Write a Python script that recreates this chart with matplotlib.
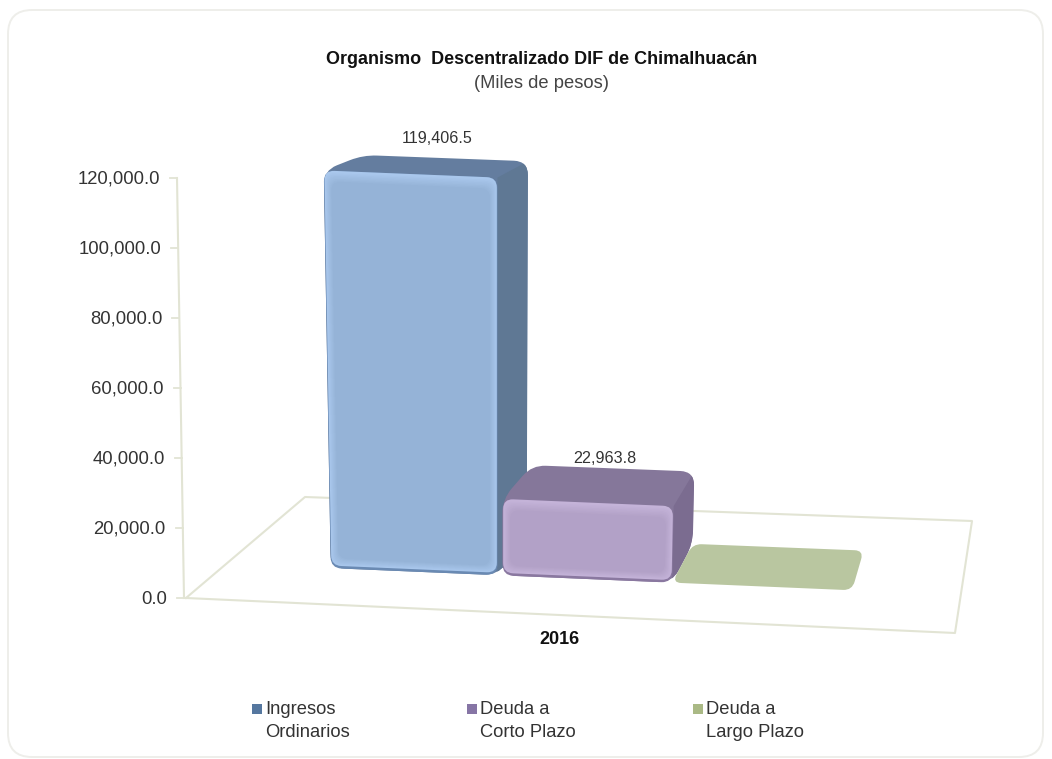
import matplotlib
matplotlib.use("Agg")
import matplotlib.pyplot as plt
import numpy as np
from matplotlib.path import Path
from matplotlib.patches import PathPatch, FancyBboxPatch, Patch, Rectangle
from matplotlib.legend import Legend
from matplotlib.legend_handler import HandlerPatch

plt.rcParams['font.family'] = ['Liberation Sans', 'DejaVu Sans']

# ---- data
title = "Organismo  Descentralizado DIF de Chimalhuacán"
subtitle = "(Miles de pesos)"
year = "2016"
series_names = ["Ingresos\nOrdinarios", "Deuda a\nCorto Plazo", "Deuda a\nLargo Plazo"]
series_values = [119406.5, 22963.8, 0.0]
value_labels = ["119,406.5", "22,963.8", ""]
y_ticks = [0, 20000, 40000, 60000, 80000, 100000, 120000]

# ---- styles
face_cols = ["#95b3d7", "#b2a1c7", "#b9c6a0"]
rim_cols = ["#a9c7ec", "#c4b3d8", "#c3cfab"]
edge_cols = ["#6a8ab3", "#8a78a0", "#b9c6a0"]
top_cols = ["#647d9f", "#85779a", "#b9c6a0"]
side_cols = ["#5f7894", "#7b6c90", "#b9c6a0"]
legend_cols = ["#55779f", "#8675a5", "#aab985"]
bar_u0 = [0.142, 0.376, 0.607]
bar_u1 = [0.369, 0.607, 0.852]
legend_x = [245, 460, 686]
d_front, d_back = 0.34, 0.70
line_col = "#e2e4d4"
text_col = "#333333"

W, H = 1052, 759
fig = plt.figure(figsize=(W / 100, H / 100), dpi=100, facecolor="white")
ax = fig.add_axes([0, 0, 1, 1])
ax.set_xlim(0, W)
ax.set_ylim(H, 0)
ax.axis("off")

# panel
ax.add_patch(FancyBboxPatch((8, 10), 1035, 747, boxstyle="round,pad=0,rounding_size=24",
                            fc="white", ec="#eeeeea", lw=1.4, zorder=0))

# floor corners of the 3-D scene, used by the projection below
F0, F1 = np.array([186., 598.]), np.array([955., 633.])
B0, B1 = np.array([305., 497.]), np.array([972., 521.])
VMAX = series_values[0]


def project(u, d, v=0.0):
    """Map (category position u, depth d, value v) to the picture."""
    p = (1 - d) * (F0 + (F1 - F0) * u) + d * (B0 + (B1 - B0) * u)
    x = p[0] + (p[0] - 497) * 0.042 * v / VMAX
    y = p[1] - (3.5 - 0.5 * d) / 1000 * v
    return np.array([x, y])


def axis_point(v):
    """The value axis leans slightly with the perspective."""
    return np.array([184 - 7 * v / y_ticks[-1], 598 - 420 * v / y_ticks[-1]])


def rounded(poly, r):
    """Path through polygon vertices with rounded corners."""
    poly = np.asarray(poly, float)
    n = len(poly)
    verts, codes = [], []
    for i in range(n):
        a, b, c = poly[i - 1], poly[i], poly[(i + 1) % n]
        r1 = min(r, np.linalg.norm(a - b) / 2)
        r2 = min(r, np.linalg.norm(c - b) / 2)
        p1 = b + (a - b) / np.linalg.norm(a - b) * r1
        p2 = b + (c - b) / np.linalg.norm(c - b) * r2
        verts += [p1, b, p2]
        codes += [Path.MOVETO if i == 0 else Path.LINETO, Path.CURVE3, Path.CURVE3]
    verts.append(verts[0])
    codes.append(Path.CLOSEPOLY)
    return Path(verts, codes)


def inset(poly, dx, top=None, bottom=None):
    poly = np.asarray(poly, float)
    c = poly.mean(axis=0)
    out = poly.copy()
    top = dx if top is None else top
    bottom = dx if bottom is None else bottom
    for i, p in enumerate(poly):
        out[i, 0] += dx * np.sign(c[0] - p[0])
        out[i, 1] += top if p[1] < c[1] else -bottom
    return out


def mix(a, b, t):
    ca, cb = np.array(matplotlib.colors.to_rgb(a)), np.array(matplotlib.colors.to_rgb(b))
    return tuple(ca + (cb - ca) * t)


def fill(poly, r, color, z):
    patch = PathPatch(rounded(poly, r), fc=color, ec="none", lw=0, zorder=z)
    ax.add_patch(patch)
    return patch


# floor outline
ax.plot(*np.array([F0, B0, B1, F1, F0]).T, color=line_col, lw=1.5, zorder=1, solid_joinstyle="round")

# value axis
a0, a1 = axis_point(y_ticks[0]), axis_point(y_ticks[-1])
ax.plot([a0[0], a1[0]], [a0[1], a1[1]], color=line_col, lw=1.5, zorder=2)
for t in y_ticks:
    p = axis_point(t)
    ax.plot([p[0] - 7, p[0]], [p[1], p[1]], color=line_col, lw=1.3, zorder=2)
    ax.text(p[0] - 17, p[1] + 1.5, f"{t:,.1f}", ha="right", va="center", fontsize=13.3, color=text_col, zorder=20)

# bars
for i, v in enumerate(series_values):
    z = 3 + i
    u0, u1 = bar_u0[i], bar_u1[i]
    if v <= 0:
        quad = [project(u0, d_front), project(u1, d_front), project(u1, d_back), project(u0, d_back)]
        fill(quad, 9, face_cols[i], z)
        continue
    fbl, fbr = project(u0, d_front), project(u1, d_front)
    ftl, ftr = project(u0, d_front, v), project(u1, d_front, v)
    bbr = project(u1, d_back)
    btl, btr = project(u0, d_back, v), project(u1, d_back, v)
    # top and side share one rounded silhouette
    outline = fill([ftl, btl, btr, bbr, fbr, fbl], 14, top_cols[i], z)
    side = PathPatch(Path([ftr, btr, bbr, fbr, ftr]), fc=side_cols[i], ec="none", lw=0, zorder=z + 0.01)
    ax.add_patch(side)
    side.set_clip_path(outline)
    front = [ftl, ftr, fbr, fbl]
    fill(front, 11, edge_cols[i], z + 0.02)
    fill(inset(front, 0.6, 0, 2.5), 10, rim_cols[i], z + 0.03)
    steps = 7
    for k in range(steps):
        t = (k + 1) / steps
        fill(inset(front, 0.6 + 7 * t, 1 + 10 * t, 2.5 + 7 * t), 9, mix(rim_cols[i], face_cols[i], t),
             z + 0.04 + k * 0.001)
    if value_labels[i]:
        top_c = project((u0 + u1) / 2, d_back, v)
        ax.text(top_c[0] - 8, top_c[1] - 12.5 * v / VMAX, value_labels[i], ha="center", va="bottom",
                fontsize=11.6, color=text_col, zorder=20)

# texts
ax.text(542, 59.5, title, ha="center", va="center", fontsize=13, fontweight="bold", color="#111111")
ax.text(542, 83, subtitle, ha="center", va="center", fontsize=13.2, color="#444444")
ax.text(559, 640, year, ha="center", va="center", fontsize=13, fontweight="bold", color="#111111")


# legend: one small legend per series, so each column sits where it does in the chart
def first_line_patch(legend, orig_handle, xdescent, ydescent, width, height, fontsize):
    return Rectangle((5.2, 9.6), 7.2, 7.2)


for i, name in enumerate(series_names):
    leg = Legend(ax, [Patch(fc=legend_cols[i], ec="none")], [name], loc="upper left",
                 bbox_to_anchor=(legend_x[i] / W, 1 - 701 / H), frameon=False, fontsize=13.2,
                 labelcolor=text_col, handlelength=0.6, handleheight=0.6, handletextpad=0.5,
                 borderpad=0, borderaxespad=0, labelspacing=0,
                 handler_map={Patch: HandlerPatch(patch_func=first_line_patch)})
    for t in leg.get_texts():
        t.set_linespacing(1.45)
    ax.add_artist(leg)

fig.savefig("out.png", dpi=100, facecolor="white")
